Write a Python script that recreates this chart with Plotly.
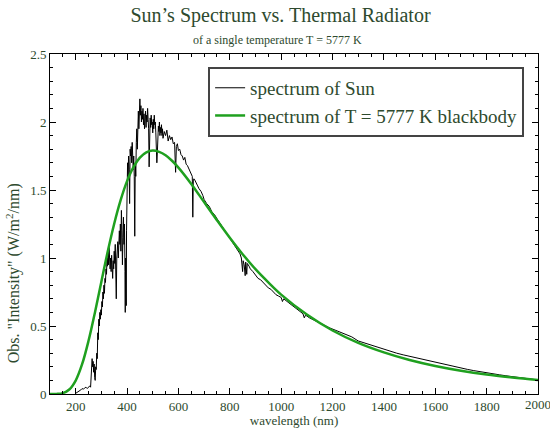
import plotly.graph_objects as go

# ---- data ----
sun_wavelength = [
    200, 205, 210, 215, 220, 225, 230, 235, 240, 245, 250, 255, 258, 260, 262, 264, 266, 268, 270, 272,
    274, 276, 278, 280, 282, 284, 286, 288, 290, 292, 294, 296, 298, 300, 302, 304, 306, 308, 310, 312,
    314, 316, 318, 320, 322, 324, 326, 328, 330, 332, 334, 336, 338, 340, 342, 344, 346, 348, 350, 352,
    354, 356, 358, 360, 362, 364, 366, 368, 370, 372, 374, 376, 378, 380, 382, 384, 386, 388, 390, 392,
    393, 394, 396, 397, 398, 400, 402, 404, 406, 408, 410, 412, 414, 416, 418, 420, 422, 424, 426, 428,
    430, 431, 432, 434, 436, 438, 440, 442, 444, 446, 448, 450, 452, 454, 456, 458, 460, 462, 464, 466,
    468, 470, 472, 474, 476, 478, 480, 482, 484, 486, 488, 490, 492, 494, 496, 498, 500, 502, 504, 506,
    508, 510, 512, 514, 516, 518, 520, 522, 524, 526, 528, 530, 532, 534, 536, 538, 540, 545, 550, 555,
    560, 565, 570, 575, 580, 585, 589, 592, 596, 600, 605, 610, 615, 620, 625, 630, 635, 640, 645, 650,
    654, 656, 658, 662, 668, 675, 680, 688, 695, 700, 710, 720, 730, 740, 750, 760, 770, 780, 790, 800,
    810, 820, 830, 840, 845, 850, 852, 856, 860, 862, 866, 868, 875, 880, 890, 900, 910, 920, 930, 940,
    950, 960, 970, 980, 990, 1000, 1005, 1010, 1030, 1050, 1070, 1085, 1090, 1095, 1110, 1130, 1150, 1170, 1190, 1210,
    1230, 1250, 1275, 1300, 1325, 1350, 1375, 1400, 1425, 1450, 1475, 1500, 1525, 1550, 1575, 1600, 1625, 1650, 1675, 1700,
    1725, 1750, 1775, 1800, 1825, 1850, 1875, 1900, 1925, 1950, 1975, 2000,
]
sun_irradiance = [
    0.005, 0.01, 0.02, 0.025, 0.03, 0.04, 0.035, 0.045, 0.05, 0.04, 0.055, 0.06, 0.05, 0.12, 0.22, 0.26, 0.20, 0.24, 0.16, 0.22,
    0.12, 0.10, 0.20, 0.18, 0.30, 0.26, 0.45, 0.40, 0.55, 0.50, 0.60, 0.55, 0.62, 0.58, 0.68, 0.64, 0.75, 0.70, 0.80, 0.74,
    0.85, 0.82, 0.92, 0.88, 1.00, 0.94, 1.05, 0.95, 1.08, 0.98, 0.92, 1.00, 0.90, 1.02, 0.95, 0.85, 0.98, 0.92, 1.05, 0.96,
    1.10, 0.90, 0.70, 1.00, 1.05, 1.12, 1.00, 1.15, 1.20, 1.10, 1.25, 1.05, 1.35, 1.20, 0.95, 1.15, 1.30, 1.10, 1.25, 0.90,
    0.60, 1.00, 0.75, 0.65, 1.20, 1.55, 1.70, 1.60, 1.75, 1.65, 1.40, 1.80, 1.75, 1.82, 1.70, 1.85, 1.78, 1.65, 1.75, 1.60,
    1.16, 1.45, 1.70, 1.60, 1.85, 1.95, 1.80, 2.00, 2.08, 1.95, 2.10, 2.17, 2.05, 2.12, 2.00, 2.08, 2.02, 2.10, 1.98, 2.06,
    1.95, 2.02, 2.08, 1.96, 2.05, 2.00, 2.10, 2.02, 1.95, 1.67, 1.95, 2.03, 1.96, 2.05, 1.98, 2.00, 1.92, 2.02, 1.95, 2.05,
    1.98, 2.00, 1.92, 1.85, 1.70, 1.78, 1.90, 1.97, 1.93, 2.00, 1.90, 1.96, 1.92, 1.98, 1.90, 1.95, 1.88, 1.93, 1.90, 1.94,
    1.86, 1.90, 1.87, 1.89, 1.84, 1.85, 1.63, 1.82, 1.84, 1.79, 1.80, 1.76, 1.75, 1.72, 1.74, 1.69, 1.68, 1.66, 1.64, 1.62,
    1.60, 1.30, 1.58, 1.58, 1.55, 1.53, 1.51, 1.49, 1.46, 1.43, 1.40, 1.38, 1.34, 1.32, 1.29, 1.26, 1.23, 1.20, 1.18, 1.15,
    1.12, 1.09, 1.06, 1.03, 1.00, 0.90, 0.98, 0.95, 0.87, 0.97, 0.88, 0.96, 0.94, 0.92, 0.90, 0.87, 0.85, 0.84, 0.82, 0.80,
    0.78, 0.77, 0.75, 0.73, 0.72, 0.71, 0.68, 0.70, 0.67, 0.64, 0.61, 0.59, 0.56, 0.58, 0.56, 0.54, 0.52, 0.50, 0.485, 0.47,
    0.455, 0.44, 0.42, 0.39, 0.375, 0.36, 0.345, 0.325, 0.312, 0.30, 0.288, 0.277, 0.265, 0.254, 0.243, 0.232, 0.221, 0.210, 0.200, 0.190,
    0.181, 0.172, 0.163, 0.155, 0.148, 0.141, 0.134, 0.128, 0.121, 0.115, 0.109, 0.103,
]

bb_wavelength = [100, 125, 150, 175, 200, 225, 250, 275, 300, 325, 350, 375, 400, 425, 450, 475, 500, 525, 550, 575,
                 600, 650, 700, 750, 800, 850, 900, 950, 1000, 1100, 1200, 1300, 1400, 1500, 1600, 1700, 1800, 1900, 2000]
bb_irradiance = [0.0, 0.0006, 0.0066, 0.033, 0.099, 0.219, 0.391, 0.600, 0.826, 1.049, 1.252, 1.425, 1.565, 1.668, 1.738, 1.777, 1.790, 1.780, 1.755, 1.715,
                 1.665, 1.545, 1.411, 1.278, 1.149, 1.028, 0.918, 0.821, 0.731, 0.584, 0.467, 0.376, 0.306, 0.250, 0.206, 0.171, 0.143, 0.121, 0.102]

x_ticks = [200, 400, 600, 800, 1000, 1200, 1400, 1600, 1800, 2000]
x_tick_labels = ["200", "400", "600", "800", "1000", "1200", "1400", "1600", "1800", ""]
x_last_label = "2000"
y_ticks = [0, 0.5, 1, 1.5, 2, 2.5]
y_tick_labels = ["0", "0.5", "1", "1.5", "2", "2.5"]

TXT = "#2e4a2e"
FONT = "Liberation Serif, Times New Roman, DejaVu Serif, serif"

fig = go.Figure()
fig.add_trace(go.Scatter(x=sun_wavelength, y=sun_irradiance, mode="lines",
                         name="spectrum of Sun", line=dict(color="black", width=1)))
fig.add_trace(go.Scatter(x=bb_wavelength, y=bb_irradiance, mode="lines",
                         name="spectrum of T = 5777 K blackbody",
                         line=dict(color="#1fa01f", width=2.5, shape="spline")))

axis_common = dict(showline=True, linecolor="black", linewidth=1, mirror="allticks",
                   ticks="inside", ticklen=6, tickcolor="black", showgrid=False, zeroline=False,
                   automargin=False,
                   tickfont=dict(family=FONT, size=13, color=TXT))

fig.update_xaxes(range=[100, 2000], tickvals=x_ticks, ticktext=x_tick_labels,
                 minor=dict(dtick=50, ticks="inside", ticklen=3, tickcolor="black"),
                 title=dict(text="wavelength (nm)", font=dict(family=FONT, size=13, color=TXT), standoff=0),
                 **axis_common)
fig.update_yaxes(range=[0, 2.5], tickvals=y_ticks, ticktext=y_tick_labels,
                 minor=dict(dtick=0.1, ticks="inside", ticklen=3, tickcolor="black"),
                 **axis_common)

fig.update_layout(
    width=550, height=428,
    margin=dict(l=50, r=12, t=54, b=34),
    font=dict(family=FONT, color=TXT),
    paper_bgcolor="white", plot_bgcolor="white",
    title=dict(text="Sun’s Spectrum vs. Thermal Radiator", x=0.51, xanchor="center",
               y=1 - 15 / 428, yanchor="middle", font=dict(family=FONT, size=20, color=TXT)),
    annotations=[
        dict(text="of a single temperature T = 5777 K", xref="paper", yref="paper",
             x=0.467, y=1.041, xanchor="center", yanchor="middle", showarrow=False,
             font=dict(family=FONT, size=12, color=TXT)),
        dict(text=x_last_label, xref="x", yref="paper", x=x_ticks[-1], y=0,
             xanchor="center", yanchor="top", yshift=-1, showarrow=False,
             font=dict(family=FONT, size=13, color=TXT)),
        dict(text="Obs. \"Intensity\" (W/m<sup>2</sup>/nm)", xref="paper", yref="paper",
             x=-0.076, y=0.355, xanchor="center", yanchor="middle", textangle=-90,
             showarrow=False, font=dict(family=FONT, size=16, color=TXT)),
    ],
    legend=dict(x=0.324, y=0.962, xanchor="left", yanchor="top",
                bgcolor="white", bordercolor="#444444", borderwidth=2,
                font=dict(family=FONT, size=19, color=TXT), tracegroupgap=0),
    showlegend=True,
)

fig.write_html("out.html")
